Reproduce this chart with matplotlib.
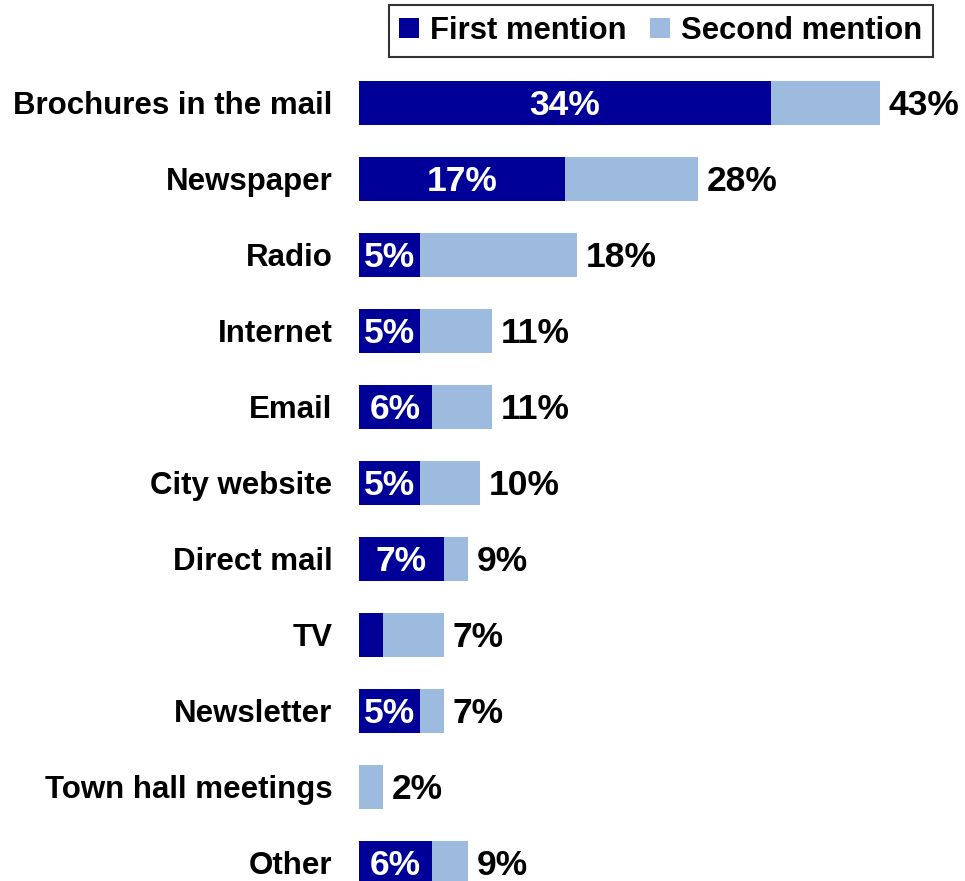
import matplotlib.pyplot as plt
import numpy as np

plt.rcParams['font.family'] = ['Liberation Sans', 'DejaVu Sans']
plt.rcParams['font.weight'] = 'bold'

# survey answers, top to bottom
sources = ['Brochures in the mail', 'Newspaper', 'Radio', 'Internet', 'Email',
           'City website', 'Direct mail', 'TV', 'Newsletter',
           'Town hall meetings', 'Other']
first = [34, 17, 5, 5, 6, 5, 7, 2, 5, 0, 6]
total = [43, 28, 18, 11, 11, 10, 9, 7, 7, 2, 9]
first_labels = ['34%', '17%', '5%', '5%', '6%', '5%', '7%', '', '5%', '', '6%']

second = [t - f for t, f in zip(total, first)]
dark = '#000099'
light = '#9dbbdf'

fig = plt.figure(figsize=(9.65, 8.81), dpi=100)
ax = fig.add_axes([359/965, 0, 1 - 359/965, (881-65)/881])

y = np.arange(len(sources))
ax.barh(y, first, height=0.58, color=dark, label='First mention')
ax.barh(y, second, left=first, height=0.58, color=light, label='Second mention')

# baseline sits half a cap height below the bar centre
for i in range(len(sources)):
    if first_labels[i]:
        ax.annotate(first_labels[i], (first[i] / 2, y[i]), xytext=(0, -9),
                    textcoords='offset points', color='white', fontsize=25.5,
                    fontweight='bold', ha='center', va='baseline')
    ax.annotate(f'{total[i]}%', (total[i], y[i]), xytext=(6, -9),
                textcoords='offset points', fontsize=25.5, fontweight='bold',
                ha='left', va='baseline', color='black')

ax.set_xlim(0, 50)
ax.set_ylim(10.237, -0.5)
ax.set_yticks(y)
ax.set_yticklabels(sources, fontsize=22.5, fontweight='bold')
ax.tick_params(axis='y', length=0, pad=19)
ax.set_xticks([])
for s in ax.spines.values():
    s.set_visible(False)

leg = fig.legend(loc='upper right', bbox_to_anchor=(933/965, 1 - 5/881), ncol=2,
                 fontsize=22.3, frameon=True, fancybox=False, handlelength=0.65,
                 handleheight=0.65, handletextpad=0.35, columnspacing=0.75,
                 borderpad=0.35, borderaxespad=0)
leg.get_frame().set_edgecolor('black')
leg.get_frame().set_linewidth(1.5)
for t in leg.get_texts():
    t.set_fontweight('bold')

fig.savefig('out.png', dpi=100)
